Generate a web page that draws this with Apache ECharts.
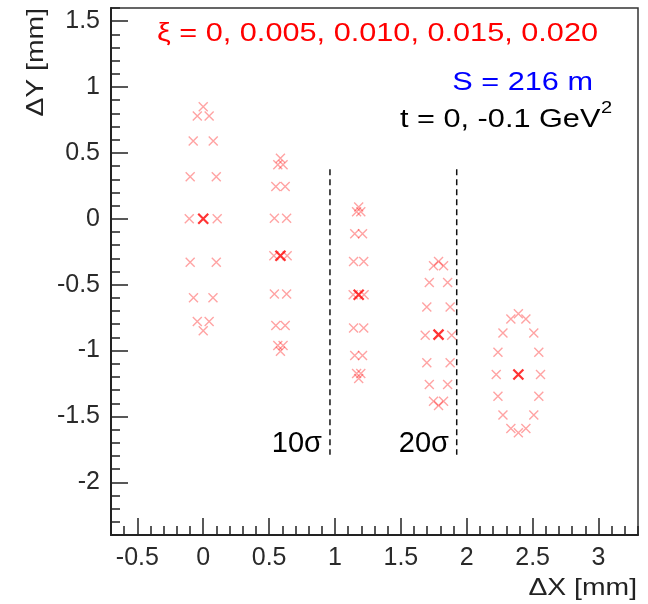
<!DOCTYPE html>
<html>
<head>
<meta charset="utf-8">
<script src="https://cdn.jsdelivr.net/npm/echarts@6.0.0/dist/echarts.min.js"></script>
<style>html,body{margin:0;padding:0;background:#fff}#c{width:648px;height:604px}</style>
</head>
<body>
<div id="c"></div>
<script>
// ---- data (mm) ----
var xMajor = [-0.5, 0, 0.5, 1, 1.5, 2, 2.5, 3];
var yMajor = [-2, -1.5, -1, -0.5, 0, 0.5, 1, 1.5];

// xi = 0 (t = -0.1 GeV^2, 16 azimuths)
var group1 = [[0,0.85],[0.045,0.78],[0.076,0.59],[0.099,0.32],[0.106,0.0],[0.099,-0.33],[0.074,-0.60],[0.045,-0.78],
              [0,-0.85],[-0.045,-0.78],[-0.074,-0.60],[-0.099,-0.33],[-0.106,0.0],[-0.099,0.32],[-0.076,0.59],[-0.045,0.78]];
// xi = 0.005
var group2 = [[0.586,0.46],[0.606,0.41],[0.622,0.245],[0.633,0.005],[0.637,-0.28],[0.633,-0.57],[0.622,-0.81],[0.606,-0.962],
              [0.586,-1.005],[0.566,-0.962],[0.551,-0.81],[0.540,-0.57],[0.536,-0.28],[0.540,0.005],[0.551,0.245],[0.566,0.41]];
// xi = 0.010
var group3 = [[1.18,0.09],[1.196,0.053],[1.209,-0.114],[1.218,-0.324],[1.221,-0.576],[1.218,-0.828],[1.209,-1.038],[1.196,-1.174],
              [1.18,-1.212],[1.164,-1.174],[1.150,-1.038],[1.141,-0.828],[1.138,-0.576],[1.141,-0.324],[1.150,-0.114],[1.164,0.053]];
// xi = 0.015
var group4 = [[1.786,-0.324],[1.824,-0.356],[1.855,-0.483],[1.874,-0.669],[1.886,-0.883],[1.874,-1.093],[1.855,-1.258],[1.824,-1.384],
              [1.786,-1.417],[1.748,-1.384],[1.716,-1.258],[1.697,-1.093],[1.685,-0.883],[1.697,-0.669],[1.716,-0.483],[1.748,-0.356]];
// xi = 0.020
var group5 = [[2.392,-0.72],[2.449,-0.76],[2.509,-0.866],[2.547,-1.013],[2.56,-1.182],[2.547,-1.346],[2.509,-1.49],[2.449,-1.591],
              [2.392,-1.623],[2.335,-1.591],[2.275,-1.49],[2.237,-1.346],[2.224,-1.182],[2.237,-1.013],[2.275,-0.866],[2.335,-0.76]];
// t = 0 positions
var centers = [[0,0],[0.586,-0.28],[1.18,-0.576],[1.786,-0.879],[2.392,-1.182]];

// 10 sigma / 20 sigma lines
var sigma10Line = [[0.962,0.376],[0.962,-1.79]];
var sigma20Line = [[1.924,0.376],[1.924,-1.79]];

// minor ticks every 0.1 mm
var xMinor = [], yMinor = [];
for (var i = -7; i <= 33; i++) xMinor.push(i/10);
for (var j = -24; j <= 16; j++) yMinor.push(j/10);

var FONT = '"Liberation Sans", Arial, sans-serif';
var AX = '#222';
var crossPath = 'path://M0,0L10,10M10,0L0,10';
var pink = 'rgba(255,0,0,0.45)';

function fmt(v){ return String(Math.round(v*10)/10); }

function scatter(data, color, size, lw, z){
  return {type:'scatter', data:data, symbol:crossPath, symbolSize:size, xAxisIndex:0, yAxisIndex:0,
          itemStyle:{color:'rgba(0,0,0,0)', borderColor:color, borderWidth:lw}, z:z, silent:true};
}
function dashLine(data){
  return {type:'line', data:data, symbol:'none', xAxisIndex:0, yAxisIndex:0, z:3, silent:true,
          lineStyle:{color:'#111', width:1.5, type:[6,4]}};
}

var chart = echarts.init(document.getElementById('c'), null, {renderer:'canvas'});
chart.setOption({
  animation:false,
  backgroundColor:'#fff',
  grid:{left:111, top:8, right:10, bottom:69, show:true, borderColor:'#333', borderWidth:1.5, backgroundColor:'#fff'},
  xAxis:[
    {type:'value', min:-0.7, max:3.3, position:'bottom',
     axisLine:{show:true, onZero:false, lineStyle:{color:AX, width:2}},
     axisTick:{show:true, inside:true, length:17, customValues:xMajor, lineStyle:{color:AX, width:1.5}},
     axisLabel:{show:true, customValues:xMajor, formatter:fmt, margin:11, fontSize:25, fontFamily:FONT, color:'#2a2a2a'},
     splitLine:{show:false}},
    {type:'value', min:-0.7, max:3.3, position:'bottom',
     axisLine:{show:false, onZero:false},
     axisTick:{show:true, inside:true, length:9, customValues:xMinor, lineStyle:{color:AX, width:1.5}},
     axisLabel:{show:false}, splitLine:{show:false}}
  ],
  yAxis:[
    {type:'value', min:-2.4, max:1.6, position:'left',
     axisLine:{show:true, onZero:false, lineStyle:{color:AX, width:2}},
     axisTick:{show:true, inside:true, length:17, customValues:yMajor, lineStyle:{color:AX, width:1.5}},
     axisLabel:{show:true, customValues:yMajor, formatter:fmt, margin:11, fontSize:25, fontFamily:FONT, color:'#2a2a2a'},
     splitLine:{show:false}},
    {type:'value', min:-2.4, max:1.6, position:'left',
     axisLine:{show:false, onZero:false},
     axisTick:{show:true, inside:true, length:9, customValues:yMinor, lineStyle:{color:AX, width:1.5}},
     axisLabel:{show:false}, splitLine:{show:false}}
  ],
  series:[
    dashLine(sigma10Line),
    dashLine(sigma20Line),
    scatter(group1, pink, 9, 1.4, 4),
    scatter(group2, pink, 9, 1.4, 4),
    scatter(group3, pink, 9, 1.4, 4),
    scatter(group4, pink, 9, 1.4, 4),
    scatter(group5, pink, 9, 1.4, 4),
    scatter(centers, 'rgba(255,0,0,1)', 10, 2.2, 5)
  ],
  graphic:[
    {type:'text', x:157, y:34, scaleX:1.18, silent:true,
     style:{text:'ξ = 0, 0.005, 0.010, 0.015, 0.020', fill:'#ff0000', font:'26px '+FONT, align:'left', verticalAlign:'middle'}},
    {type:'text', x:593, y:83, scaleX:1.18, silent:true,
     style:{text:'S = 216 m', fill:'#0000ff', font:'26px '+FONT, align:'right', verticalAlign:'middle'}},
    {type:'text', x:400, y:120, scaleX:1.18, silent:true,
     style:{text:'t = 0, -0.1 GeV', fill:'#000', font:'26px '+FONT, align:'left', verticalAlign:'middle'}},
    {type:'text', x:601, y:108, scaleX:1.18, silent:true,
     style:{text:'2', fill:'#000', font:'17px '+FONT, align:'left', verticalAlign:'middle'}},
    {type:'text', x:322, y:444, silent:true,
     style:{text:'10σ', fill:'#000', font:'29px '+FONT, align:'right', verticalAlign:'middle'}},
    {type:'text', x:449, y:444, silent:true,
     style:{text:'20σ', fill:'#000', font:'29px '+FONT, align:'right', verticalAlign:'middle'}},
    {type:'text', x:637, y:588, scaleX:1.18, silent:true,
     style:{text:'ΔX [mm]', fill:AX, font:'24px '+FONT, align:'right', verticalAlign:'middle'}},
    {type:'text', x:36, y:8, rotation:Math.PI/2, scaleX:1.18, silent:true,
     style:{text:'ΔY [mm]', fill:AX, font:'24px '+FONT, align:'right', verticalAlign:'middle'}}
  ]
});
</script>
</body>
</html>
